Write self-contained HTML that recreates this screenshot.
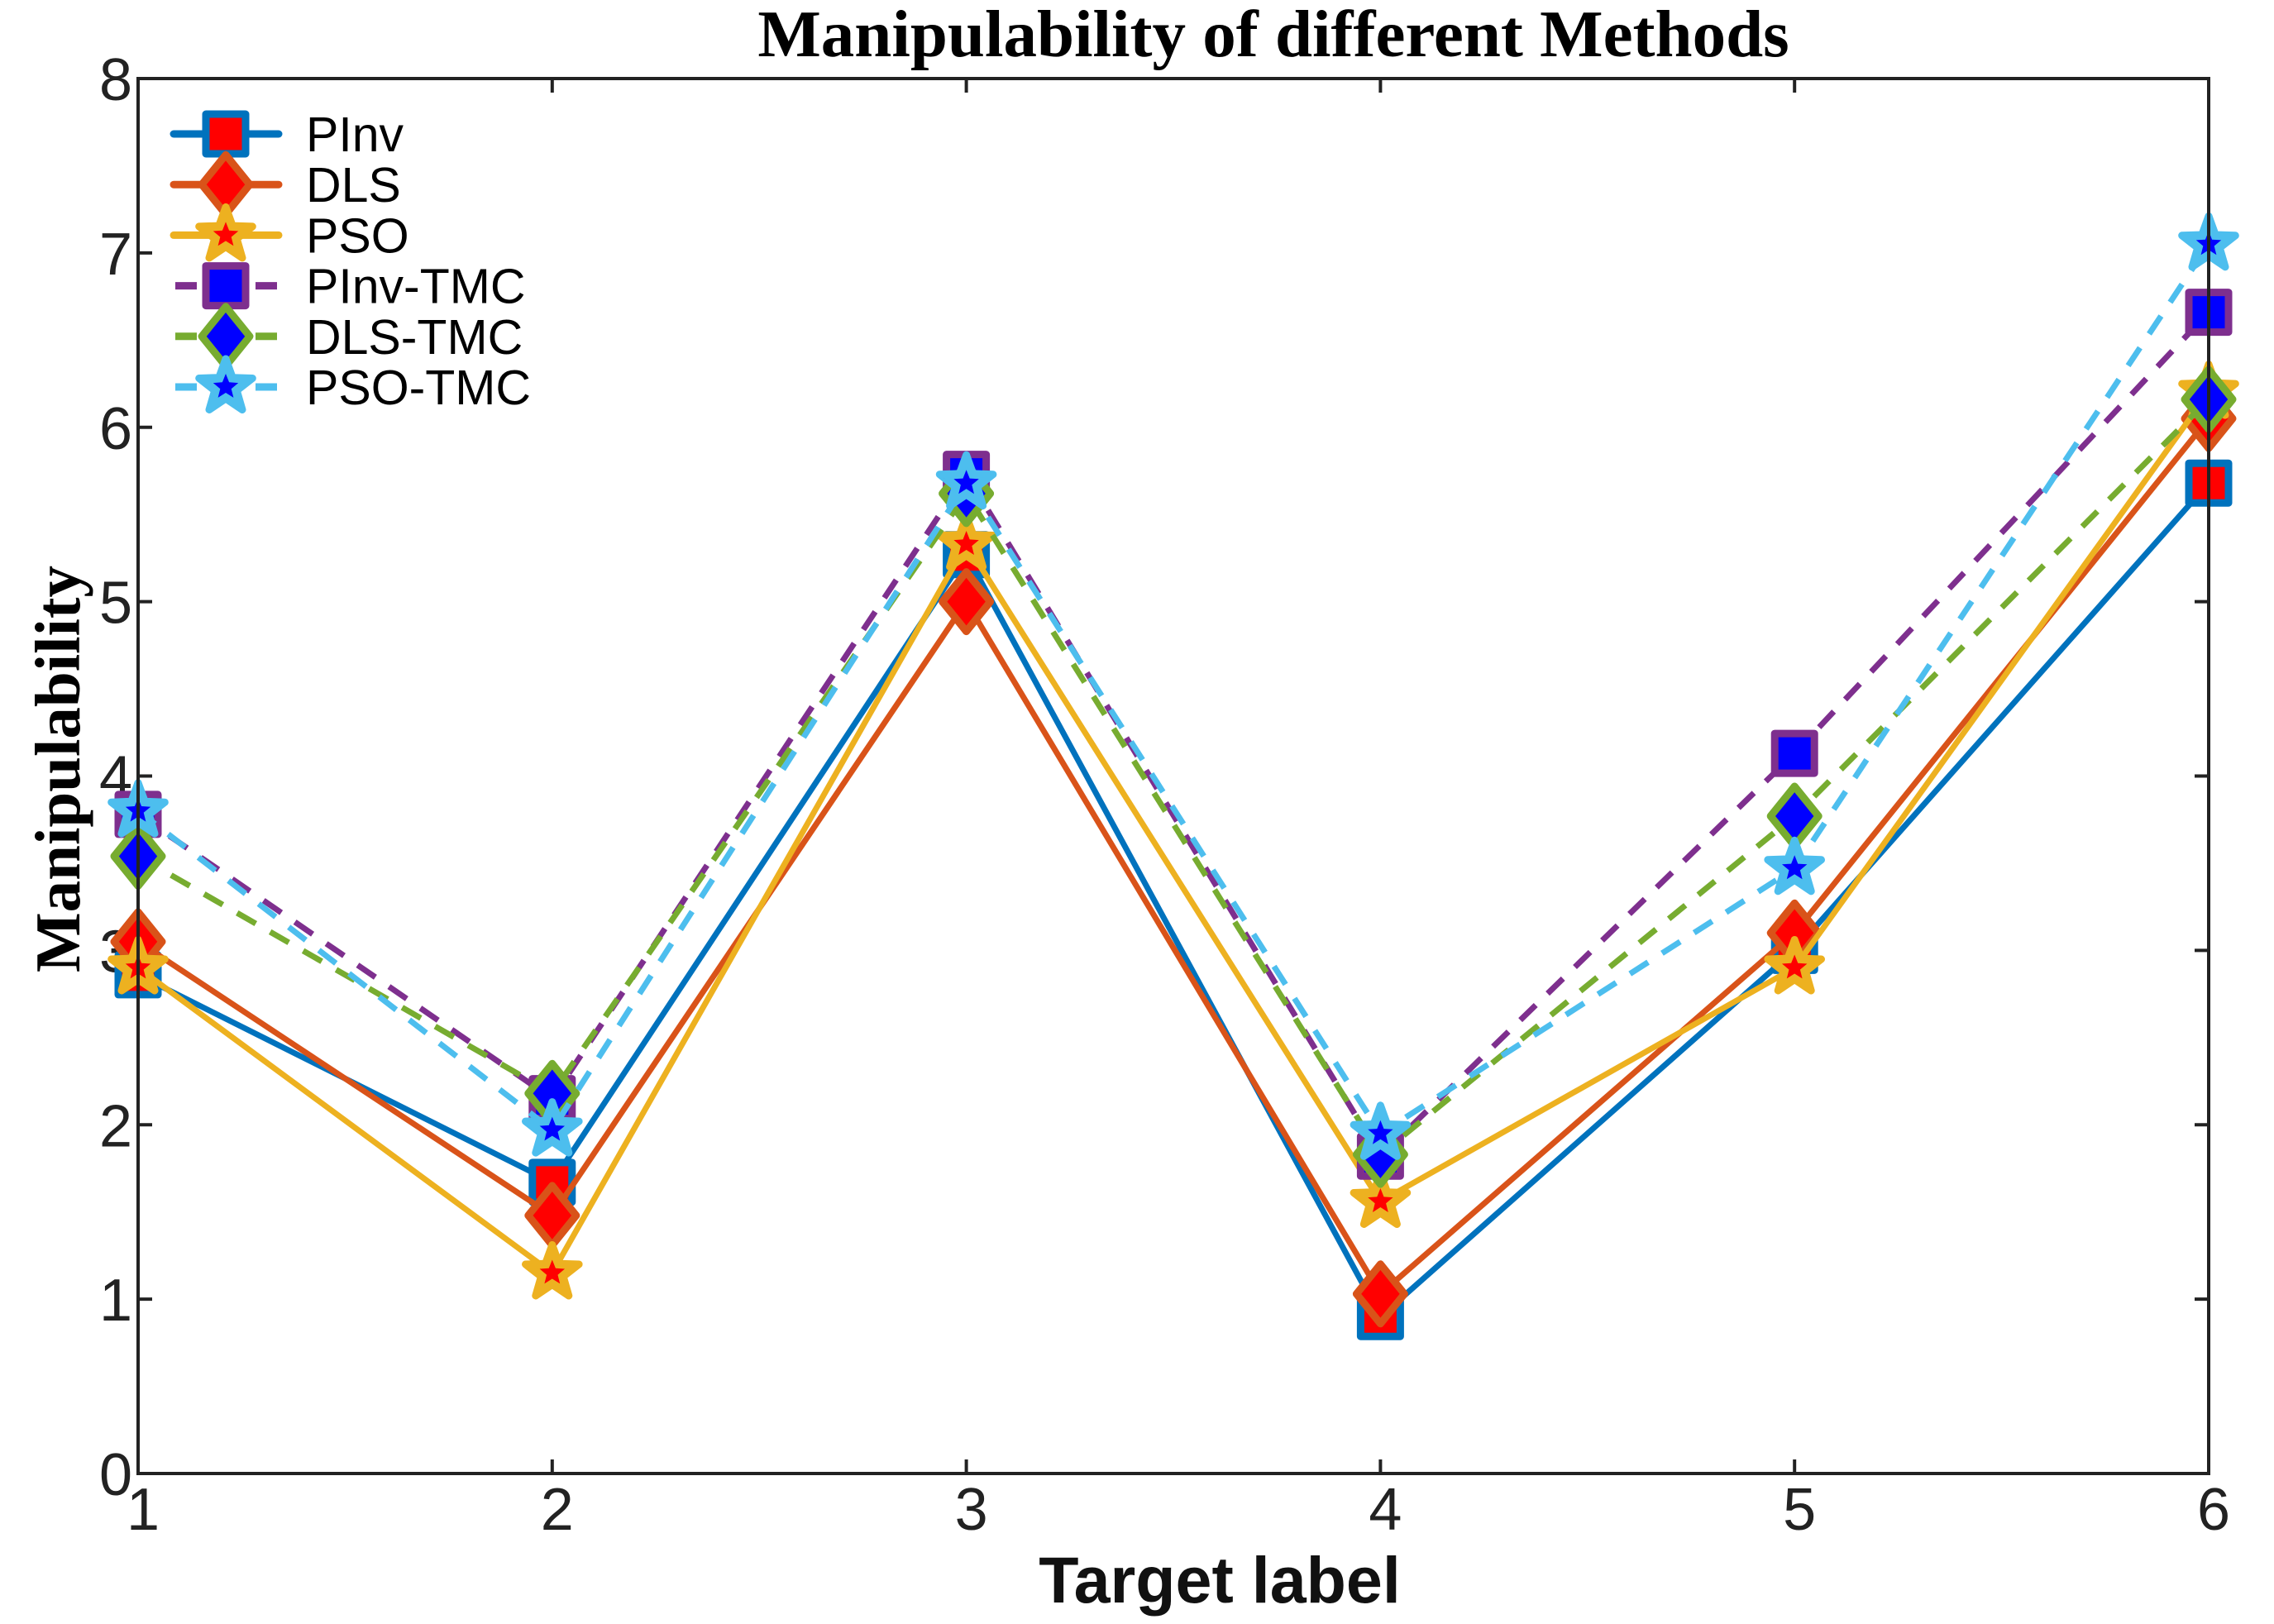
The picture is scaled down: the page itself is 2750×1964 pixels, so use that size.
<!DOCTYPE html>
<html><head><meta charset="utf-8"><style>
html,body{margin:0;padding:0;background:#fff;}
svg{display:block;}
</style></head><body>
<svg id="chart" width="2750" height="1964" viewBox="0 0 2750 1964" xmlns="http://www.w3.org/2000/svg">
<rect x="0" y="0" width="2750" height="1964" fill="#fff"/>
<text x="1540" y="68" font-family="Liberation Serif, serif" font-weight="bold" font-size="81" text-anchor="middle">Manipulability of different Methods</text>
<text transform="translate(96,930) rotate(-90)" font-family="Liberation Serif, serif" font-weight="bold" font-size="77" text-anchor="middle">Manipulability</text>
<text x="1475" y="1938" font-family="Liberation Sans, sans-serif" font-weight="bold" font-size="79" text-anchor="middle" fill="#111">Target label</text>
<g id="ticks"></g>
<g id="series"></g>
<rect x="167" y="95" width="2504" height="1687" fill="none" stroke="#222" stroke-width="4"/>
<g id="legend"></g>
</svg>
<script>
const categories = [1, 2, 3, 4, 5, 6];
const yTicks = [0, 1, 2, 3, 4, 5, 6, 7, 8];
const seriesNames = ["PInv", "DLS", "PSO", "PInv-TMC", "DLS-TMC", "PSO-TMC"];
const pinv = [2.86, 1.67, 5.27, 0.90, 3.00, 5.68];
const dls = [3.05, 1.48, 5.00, 1.03, 3.10, 6.05];
const pso = [2.90, 1.15, 5.33, 1.56, 2.90, 6.20];
const pinvTmc = [3.78, 2.15, 5.73, 1.82, 4.13, 6.66];
const dlsTmc = [3.54, 2.18, 5.62, 1.83, 3.77, 6.16];
const psoTmc = [3.80, 1.97, 5.68, 1.95, 3.47, 7.05];

const L=167,R=2671,T=95,B=1782;
const xScale=v=>L+(v-1)/(5)*(R-L);
const yScale=v=>B-v/8*(B-T);
const NS="http://www.w3.org/2000/svg";
function mk(tag,attrs,parent){const e=document.createElementNS(NS,tag);for(const k in attrs)e.setAttribute(k,attrs[k]);parent.appendChild(e);return e;}

const tg=document.getElementById('ticks');
yTicks.forEach(t=>{
  const y=yScale(t);
  const a=mk('line',{x1:L,y1:y,x2:L+17,y2:y,stroke:'#222','stroke-width':4},tg);
  
  
  const b=mk('line',{x1:R,y1:y,x2:R-17,y2:y,stroke:'#222','stroke-width':4},tg);
  
  
  const tx=mk('text',{x:160,y:y+26,'font-family':'Liberation Sans, sans-serif','font-size':72,'text-anchor':'end',fill:'#222'},tg);
  tx.textContent=t;
  
  
});
categories.forEach(c=>{
  const x=xScale(c);
  const a=mk('line',{x1:x,y1:B,x2:x,y2:B-17,stroke:'#222','stroke-width':4},tg);
  
  
  const b=mk('line',{x1:x,y1:T,x2:x,y2:T+17,stroke:'#222','stroke-width':4},tg);
  
  
  const tx=mk('text',{x:x+6,y:1850,'font-family':'Liberation Sans, sans-serif','font-size':72,'text-anchor':'middle',fill:'#222'},tg);
  tx.textContent=c;
  
  
});

function starPts(cx,cy,ro,ri){let p=[];for(let i=0;i<10;i++){const r=i%2?ri:ro;const a=-Math.PI/2+i*Math.PI/5;p.push((cx+r*Math.cos(a)).toFixed(1)+','+(cy+r*Math.sin(a)).toFixed(1));}return p.join(' ');}
function marker(g,type,cx,cy,edge,face){
  let m;
  if(type==='s') m=mk('rect',{x:cx-24,y:cy-24,width:48,height:48,fill:face,stroke:edge,'stroke-width':9,'stroke-linejoin':'round'},g);
  else if(type==='d') m=mk('polygon',{points:`${cx},${cy-36} ${cx+29},${cy} ${cx},${cy+36} ${cx-29},${cy}`,fill:face,stroke:edge,'stroke-width':9,'stroke-linejoin':'round'},g);
  else { m=mk('polygon',{points:starPts(cx,cy,34,14),fill:edge,stroke:edge,'stroke-width':9,'stroke-linejoin':'round'},g);
    const s=mk('polygon',{points:starPts(cx,cy,16,7),fill:face},g);
    
    }
  
  
}
const styles=[
 {d:pinv,c:'#0072BD',t:'s',f:'#ff0000',dash:null},
 {d:dls,c:'#D95319',t:'d',f:'#ff0000',dash:null},
 {d:pso,c:'#EDB120',t:'p',f:'#ff0000',dash:null},
 {d:pinvTmc,c:'#7E2F8E',t:'s',f:'#0000ff',dash:'26 20'},
 {d:dlsTmc,c:'#77AC30',t:'d',f:'#0000ff',dash:'26 20'},
 {d:psoTmc,c:'#4DBEEE',t:'p',f:'#0000ff',dash:'26 20'}
];
const sg=document.getElementById('series');
const lg=document.getElementById('legend');
styles.forEach((s,i)=>{
  const g=mk('g',{},sg);
  
  
  const pts=s.d.map((v,j)=>xScale(categories[j]).toFixed(1)+','+yScale(v).toFixed(1)).join(' ');
  const at={points:pts,fill:'none',stroke:s.c,'stroke-width':7,'stroke-linejoin':'round'};
  if(s.dash)at['stroke-dasharray']=s.dash;
  const pl=mk('polyline',at,g);
  
  
  s.d.forEach((v,j)=>marker(g,s.t,xScale(categories[j]),yScale(v),s.c,s.f));
  const ly=162+i*61.2;
  const e=mk('g',{},lg);
  
  
  if(s.dash){
    mk('line',{x1:212,y1:ly,x2:238,y2:ly,stroke:s.c,'stroke-width':9},e);
    mk('line',{x1:309,y1:ly,x2:335,y2:ly,stroke:s.c,'stroke-width':9},e);
  } else mk('line',{x1:210,y1:ly,x2:337,y2:ly,stroke:s.c,'stroke-width':9,'stroke-linecap':'round'},e);
  marker(e,s.t,273,ly,s.c,s.f);
  const tx=mk('text',{x:370,y:ly+21,'font-family':'Liberation Sans, sans-serif','font-size':59},e);
  tx.textContent=seriesNames[i];
  
  
});
</script>
</body></html>
